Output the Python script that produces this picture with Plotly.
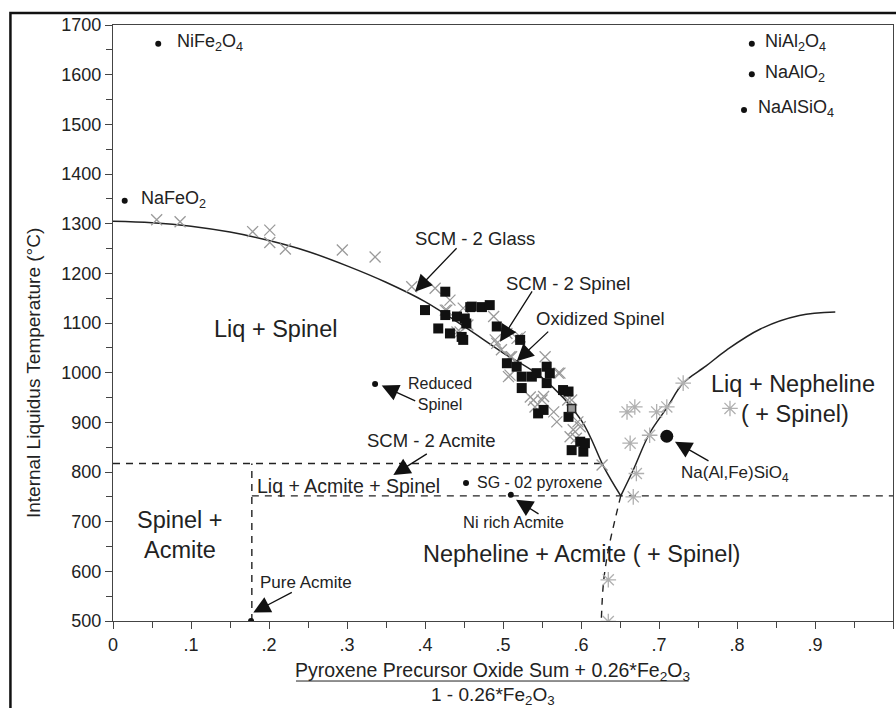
import plotly.graph_objects as go

# ---------------- data ----------------
# reference compounds (black dots, labelled)
comp_names = ["NiFe<sub>2</sub>O<sub>4</sub>", "NaFeO<sub>2</sub>", "NiAl<sub>2</sub>O<sub>4</sub>",
              "NaAlO<sub>2</sub>", "NaAlSiO<sub>4</sub>"]
comp_x = [0.058, 0.015, 0.819, 0.819, 0.809]
comp_T = [1662, 1346, 1662, 1601, 1529]

# other single points
single_names = ["Reduced Spinel", "SG - 02 pyroxene", "Ni rich Acmite", "Pure Acmite"]
single_x = [0.336, 0.4526, 0.510, 0.177]
single_T = [977, 778, 754, 500]
nafe_x = [0.710]
nafe_T = [872]

# glass (gray x)
cross_x = [0.056, 0.086, 0.179, 0.201, 0.201, 0.221, 0.294, 0.336, 0.383, 0.413, 0.432, 0.428,
           0.449, 0.441, 0.488, 0.505, 0.492, 0.518, 0.554, 0.511, 0.507, 0.571, 0.535, 0.550,
           0.541, 0.565, 0.569, 0.588, 0.590, 0.594, 0.599, 0.583, 0.596, 0.627, 0.426, 0.445,
           0.455, 0.490, 0.498, 0.509, 0.522, 0.509, 0.539, 0.552, 0.573, 0.586]
cross_T = [1308, 1304, 1284, 1287, 1262, 1249, 1247, 1233, 1173, 1170, 1146, 1126,
           1130, 1082, 1113, 1079, 1059, 1069, 1032, 1032, 992, 999, 951, 945,
           931, 921, 901, 945, 885, 868, 891, 945, 901, 814, 1126, 1082,
           1096, 1066, 1046, 1032, 1072, 995, 945, 952, 999, 871]

# spinel (black squares)
sq_x = [0.400, 0.426, 0.426, 0.441, 0.451, 0.458, 0.473, 0.483, 0.417, 0.432, 0.447, 0.449,
        0.453, 0.492, 0.522, 0.505, 0.5175, 0.524, 0.537, 0.543, 0.556, 0.560, 0.556, 0.524,
        0.577, 0.584, 0.552, 0.545, 0.584, 0.599, 0.588, 0.603, 0.605, 0.460]
sq_T = [1126, 1163, 1116, 1113, 1109, 1132, 1132, 1136, 1089, 1079, 1072, 1066,
        1099, 1093, 1066, 1019, 1012, 992, 992, 999, 1012, 999, 979, 969,
        965, 962, 925, 918, 911, 861, 844, 841, 858, 1133]

# oxidized spinel (gray square)
ox_x = [0.588]
ox_T = [928]

# nepheline liquidus data (gray asterisks)
star_x = [0.731, 0.659, 0.669, 0.697, 0.710, 0.688, 0.663, 0.671, 0.667, 0.791, 0.635, 0.635]
star_T = [979, 921, 931, 921, 931, 874, 858, 797, 750, 928, 583, 499]

# phase boundaries
spinel_liq_x = [0.0, 0.05, 0.10, 0.15, 0.20, 0.25, 0.30, 0.35, 0.40, 0.45, 0.50, 0.55, 0.60, 0.63, 0.651]
spinel_liq_T = [1305, 1302, 1295, 1283, 1266, 1244, 1215, 1182, 1143, 1093, 1040, 990, 905, 808, 752]
neph_liq_x = [0.651, 0.667, 0.688, 0.710, 0.731, 0.760, 0.787, 0.830, 0.880, 0.926]
neph_liq_T = [752, 804, 878, 929, 979, 1013, 1046, 1088, 1115, 1122]
neph_sol_x = [0.651, 0.643, 0.635, 0.629, 0.626]
neph_sol_T = [752, 700, 643, 580, 500]
acm_liq_x = [0.0, 0.628]
acm_liq_T = [817, 817]
acm_vert_x = [0.178, 0.178]
acm_vert_T = [500, 817]
eut_x = [0.178, 1.0]
eut_T = [752, 752]

x_ticks = [0, 0.1, 0.2, 0.3, 0.4, 0.5, 0.6, 0.7, 0.8, 0.9, 1.0]
x_ticktext = ["0", ".1", ".2", ".3", ".4", ".5", ".6", ".7", ".8", ".9", "1"]
y_ticks = list(range(500, 1701, 100))

# ---------------- figure ----------------
FONT = "Arial, Liberation Sans, Helvetica, sans-serif"
TXT = "#222222"
fig = go.Figure()

def line(x, y, dash="solid", w=1.5):
    fig.add_trace(go.Scatter(x=x, y=y, mode="lines", line=dict(color="#222", width=w, dash=dash,
                             shape="spline" if dash == "solid" else "linear"),
                             hoverinfo="skip", showlegend=False))

line(spinel_liq_x, spinel_liq_T)
line(neph_liq_x, neph_liq_T)
fig.add_trace(go.Scatter(x=neph_sol_x, y=neph_sol_T, mode="lines",
                         line=dict(color="#222", width=1.4, dash="7px,6px", shape="spline"),
                         showlegend=False, hoverinfo="skip"))
for xs, ys in [(acm_liq_x, acm_liq_T), (acm_vert_x, acm_vert_T), (eut_x, eut_T)]:
    fig.add_trace(go.Scatter(x=xs, y=ys, mode="lines",
                             line=dict(color="#222", width=1.4, dash="7px,6px"),
                             showlegend=False, hoverinfo="skip"))

fig.add_trace(go.Scatter(x=cross_x, y=cross_T, mode="markers", name="Glass",
                         marker=dict(symbol="x-thin-open", size=11, color="#9a9a9a",
                                     line=dict(color="#9a9a9a", width=1.3)), showlegend=False))
fig.add_trace(go.Scatter(x=star_x, y=star_T, mode="markers", name="Nepheline",
                         marker=dict(symbol="asterisk-open", size=13, color="#b0b0b0",
                                     line=dict(color="#b0b0b0", width=1.3)), showlegend=False))
fig.add_trace(go.Scatter(x=sq_x, y=sq_T, mode="markers", name="Spinel",
                         marker=dict(symbol="square", size=10, color="#111"), showlegend=False))
fig.add_trace(go.Scatter(x=ox_x, y=ox_T, mode="markers", name="Oxidized Spinel",
                         marker=dict(symbol="square", size=8, color="#999",
                                     line=dict(color="#222", width=1.5)), showlegend=False))
fig.add_trace(go.Scatter(x=comp_x + single_x, y=comp_T + single_T, mode="markers",
                         marker=dict(symbol="circle", size=6, color="#111"), showlegend=False))
fig.add_trace(go.Scatter(x=nafe_x, y=nafe_T, mode="markers",
                         marker=dict(symbol="circle", size=13, color="#111"), showlegend=False))

ann = []
# compound labels
comp_shift = [17, 14, 11, 11, 12]
for n, x, y, s in zip(comp_names, comp_x, comp_T, comp_shift):
    ann.append(dict(x=x, y=y, text=n, xanchor="left", yanchor="middle", xshift=s, yshift=1,
                    showarrow=False, font=dict(size=18, color=TXT, family=FONT)))

def label(x, y, text, size, xanchor="center", align="center"):
    ann.append(dict(x=x, y=y, text=text, xanchor=xanchor, yanchor="middle", showarrow=False,
                    align=align, font=dict(size=size, color=TXT, family=FONT)))

label(0.2077, 1088, "Liq + Spinel", 23.5)
label(0.872, 977, "Liq + Nepheline", 23.5)
label(0.874, 917, "( + Spinel)", 23.5)
label(0.086, 703, "Spinel +", 23.5)
label(0.086, 643, "Acmite", 23.5)
label(0.601, 635, "Nepheline + Acmite ( + Spinel)", 23.5)
label(0.182, 772, "Liq + Acmite + Spinel", 19.5, xanchor="left")
label(0.464, 1271, "SCM - 2 Glass", 18.5)
label(0.583, 1180, "SCM - 2 Spinel", 18.5)
label(0.6244, 1110, "Oxidized Spinel", 18.5)
label(0.4077, 864, "SCM - 2 Acmite", 18.5)
label(0.419, 957, "Reduced<br>Spinel", 16)
label(0.464, 778, "SG - 02 pyroxene", 16, xanchor="left")
label(0.514, 699, "Ni rich Acmite", 16.5)
label(0.186, 578, "Pure Acmite", 17, xanchor="left")
label(0.797, 796, "Na(Al,Fe)SiO<sub>4</sub>", 17)

# arrows: head position (data) and tail offset (px)
arrows = [(0.3872, 1163, 43, -45), (0.4962, 1062, 33, -52), (0.5176, 1023, 33, -31),
          (0.3445, 974, 35, 16), (0.3594, 794, 35, -22), (0.1799, 517, 40, -21),
          (0.7205, 861, 35, 20), (0.5167, 744, 24, 15)]
for hx, hy, ax, ay in arrows:
    ann.append(dict(x=hx, y=hy, ax=ax, ay=ay, text="", showarrow=True, arrowhead=2,
                    arrowsize=2.6, arrowwidth=1.3, arrowcolor="#111", standoff=0))

# axis titles
ann.append(dict(xref="paper", yref="paper", x=-0.1026, y=0.416, text="Internal Liquidus Temperature (°C)",
                textangle=-90, showarrow=False, xanchor="center", yanchor="middle",
                font=dict(size=19, color=TXT, family=FONT)))
ann.append(dict(xref="paper", yref="paper", x=0.487, y=-0.0839,
                text="Pyroxene Precursor Oxide Sum + 0.26*Fe<sub>2</sub>O<sub>3</sub>",
                showarrow=False, xanchor="center", yanchor="middle",
                font=dict(size=19.5, color=TXT, family=FONT)))
ann.append(dict(xref="paper", yref="paper", x=0.487, y=-0.1262,
                text="1 - 0.26*Fe<sub>2</sub>O<sub>3</sub>",
                showarrow=False, xanchor="center", yanchor="middle",
                font=dict(size=19, color=TXT, family=FONT)))

shapes = [
    dict(type="line", xref="paper", yref="paper", x0=0.2346, x1=0.738, y0=-0.1007, y1=-0.1007,
         line=dict(color="#222", width=1)),
    dict(type="rect", xref="paper", yref="paper", x0=-0.1315, x1=1.02, y0=1.0201, y1=-0.2,
         line=dict(color="#111", width=2.5)),
]

fig.update_layout(
    width=896, height=708,
    margin=dict(l=113, r=3, t=25, b=87),
    paper_bgcolor="white", plot_bgcolor="white",
    font=dict(family=FONT, color=TXT),
    annotations=ann, shapes=shapes, showlegend=False,
)
fig.update_xaxes(range=[0, 1], tickvals=x_ticks, ticktext=x_ticktext, ticks="outside", ticklen=7,
                 tickcolor="#444", tickfont=dict(size=18, color=TXT, family=FONT),
                 showline=True, linecolor="#444", linewidth=1.2, mirror=True, showgrid=False,
                 zeroline=False, minor=dict(dtick=0.05, ticks="outside", ticklen=6, tickcolor="#444"))
fig.update_yaxes(range=[500, 1700], tickvals=y_ticks, ticks="outside", ticklen=7,
                 tickcolor="#444", tickfont=dict(size=18, color=TXT, family=FONT),
                 showline=True, linecolor="#444", linewidth=1.2, mirror=True, showgrid=False,
                 zeroline=False, minor=dict(dtick=50, ticks="outside", ticklen=6, tickcolor="#444"))

fig.write_html("out.html")
